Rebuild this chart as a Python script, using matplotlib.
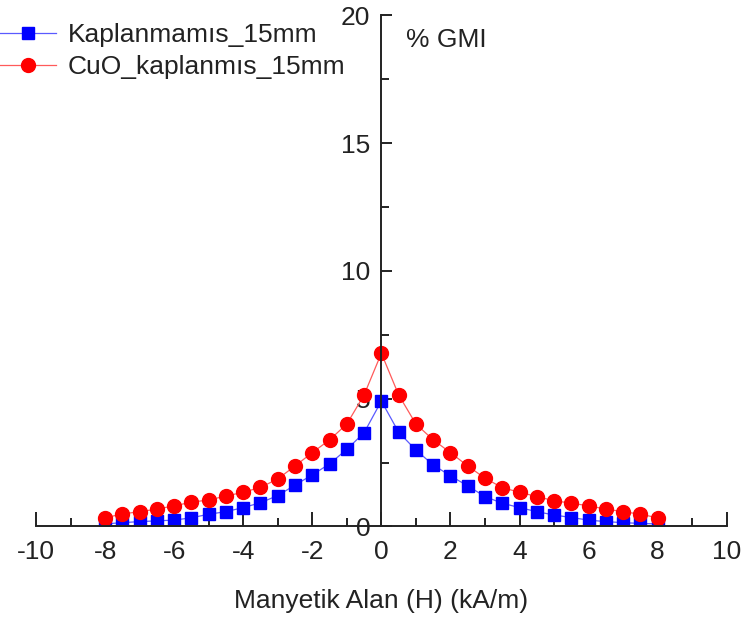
import numpy as np
from matplotlib import pyplot as plt
from matplotlib.ticker import MultipleLocator

plt.rcParams['font.family'] = ['Liberation Sans', 'DejaVu Sans']
plt.rcParams['axes.unicode_minus'] = False

# field values, kA/m
H = np.arange(-8, 8.01, 0.5)

# % GMI, uncoated wire
gmi_kaplanmamis = [0.10, 0.15, 0.19, 0.22, 0.25, 0.34, 0.48, 0.58, 0.74,
                   0.93, 1.21, 1.62, 2.02, 2.45, 3.02, 3.67, 4.91,
                   3.69, 2.99, 2.41, 1.98, 1.59, 1.17, 0.91, 0.74,
                   0.58, 0.45, 0.35, 0.25, 0.19, 0.15, 0.12, 0.10]

# % GMI, CuO coated wire
gmi_cuo = [0.34, 0.49, 0.58, 0.68, 0.81, 0.95, 1.04, 1.19, 1.34,
           1.53, 1.86, 2.37, 2.89, 3.39, 4.01, 5.15, 6.78,
           5.15, 4.01, 3.39, 2.89, 2.37, 1.89, 1.52, 1.34,
           1.17, 1.01, 0.91, 0.81, 0.68, 0.58, 0.48, 0.34]

fig = plt.figure(figsize=(7.5, 6.17), dpi=100)
ax = fig.add_axes([0.048, 0.1467, 0.921, 0.8283])

# thin, paler connecting lines, solid markers
ax.plot(H, gmi_kaplanmamis, color='#5a5aff', marker='s', markersize=8,
        markerfacecolor='blue', markeredgecolor='blue',
        linewidth=0.9, label='Kaplanmamıs_15mm')
ax.plot(H, gmi_cuo, color='#ff5a5a', marker='o', markersize=10,
        markerfacecolor='red', markeredgecolor='red',
        linewidth=0.9, label='CuO_kaplanmıs_15mm')

ax.set_xlim(-10, 10)
ax.set_ylim(0, 20)

# axes cross at the origin
ax.spines['left'].set_position(('data', 0))
ax.spines['top'].set_visible(False)
ax.spines['right'].set_visible(False)
for s in ('left', 'bottom'):
    ax.spines[s].set_linewidth(1.4)
    ax.spines[s].set_color('#222222')

ax.xaxis.set_major_locator(MultipleLocator(2))
ax.xaxis.set_minor_locator(MultipleLocator(1))
ax.yaxis.set_major_locator(MultipleLocator(5))
ax.yaxis.set_minor_locator(MultipleLocator(2.5))
ax.tick_params(axis='x', which='major', direction='in', length=10, width=1.4,
               labelsize=19, pad=10, color='#222222', labelcolor='#222222')
ax.tick_params(axis='x', which='minor', direction='in', length=6, width=1.4,
               color='#222222')
ax.tick_params(axis='y', which='major', direction='in', length=8, width=1.4,
               labelsize=19, pad=8, color='#222222', labelcolor='#222222')
ax.tick_params(axis='y', which='minor', direction='in', length=6, width=1.4,
               color='#222222')

ax.set_xlabel('Manyetik Alan (H) (kA/m)', fontsize=19, labelpad=18,
              color='#222222')
ax.text(0.7, 19.05, '% GMI', fontsize=19, va='center', ha='left',
        color='#222222')

fig.legend(loc='upper left', bbox_to_anchor=(-0.026, 0.995), frameon=False,
           fontsize=19, handlelength=2.1, handletextpad=0.45,
           labelspacing=0.3, borderaxespad=0.35, labelcolor='#222222')

fig.savefig('out.png', dpi=100)
